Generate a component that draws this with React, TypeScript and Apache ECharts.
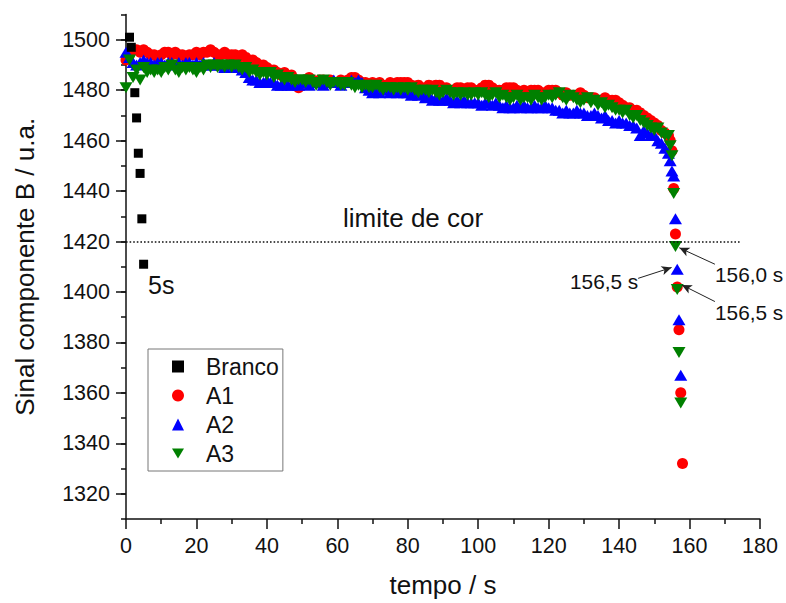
import React, { useEffect, useRef } from 'react';
import * as echarts from 'echarts';

// ---- axes ----
const xMin = 0;
const xMax = 180;
const yMin = 1310;
const yMax = 1510;
const yMajorTicks = [1320, 1340, 1360, 1380, 1400, 1420, 1440, 1460, 1480, 1500];

// ---- Branco (black squares) ----
const brancoT = [1.0, 1.5, 2.5, 3.0, 3.5, 4.0, 4.5, 5.0];
const brancoY = [1501, 1497, 1479, 1469, 1455, 1447, 1429, 1411];

// ---- body: one reading per second, t = 0 .. 153 s ----
const bodyStep = 1;
const a1Body = [
  1492, 1494, 1496, 1496, 1495, 1496, 1495, 1494, 1494, 1493,
  1494, 1495, 1495, 1494, 1495, 1494, 1494, 1493, 1494, 1494,
  1495, 1494, 1495, 1495, 1496, 1495, 1494, 1494, 1495, 1494,
  1494, 1494, 1493, 1494, 1493, 1492, 1492, 1491, 1490, 1490,
  1489, 1488, 1488, 1487, 1486, 1487, 1485, 1486, 1482, 1481,
  1483, 1484, 1485, 1484, 1483, 1484, 1484, 1483, 1484, 1483,
  1483, 1484, 1483, 1484, 1485, 1485, 1484, 1483, 1483, 1482,
  1483, 1482, 1483, 1482, 1482, 1483, 1482, 1483, 1483, 1483,
  1483, 1482, 1481, 1482, 1481, 1481, 1482, 1481, 1482, 1482,
  1481, 1481, 1480, 1480, 1481, 1481, 1480, 1481, 1481, 1480,
  1480, 1481, 1482, 1482, 1481, 1480, 1480, 1480, 1481, 1481,
  1481, 1480, 1479, 1480, 1479, 1480, 1480, 1480, 1479, 1479,
  1480, 1480, 1480, 1479, 1478, 1479, 1478, 1478, 1478, 1479,
  1478, 1477, 1477, 1477, 1476, 1476, 1477, 1476, 1476, 1476,
  1475, 1474, 1473, 1473, 1472, 1472, 1471, 1470, 1469, 1468,
  1467, 1466, 1464, 1463,
];
const a2Body = [
  1495, 1493, 1491, 1490, 1491, 1492, 1491, 1491, 1490, 1491,
  1491, 1490, 1491, 1491, 1490, 1491, 1490, 1491, 1491, 1490,
  1491, 1490, 1491, 1490, 1490, 1491, 1490, 1490, 1489, 1490,
  1490, 1489, 1490, 1488, 1487, 1485, 1484, 1484, 1483, 1483,
  1484, 1483, 1483, 1482, 1482, 1483, 1482, 1482, 1483, 1482,
  1483, 1483, 1482, 1484, 1483, 1483, 1482, 1483, 1483, 1484,
  1483, 1482, 1483, 1483, 1484, 1483, 1484, 1483, 1481, 1480,
  1479, 1480, 1479, 1480, 1481, 1479, 1480, 1479, 1480, 1479,
  1479, 1478, 1479, 1478, 1479, 1477, 1478, 1476, 1477, 1476,
  1476, 1477, 1476, 1475, 1476, 1475, 1476, 1475, 1475, 1475,
  1475, 1474, 1475, 1475, 1474, 1475, 1474, 1473, 1474, 1473,
  1473, 1474, 1473, 1474, 1473, 1473, 1474, 1473, 1473, 1474,
  1473, 1473, 1472, 1472, 1471, 1472, 1471, 1471, 1472, 1471,
  1471, 1470, 1470, 1471, 1470, 1469, 1470, 1468, 1468, 1467,
  1468, 1467, 1467, 1466, 1466, 1465, 1462, 1464, 1463, 1462,
  1462, 1460, 1459, 1457,
];
const a3Body = [
  1481, 1492, 1485, 1488, 1484, 1489, 1487, 1488, 1487, 1488,
  1487, 1489, 1488, 1490, 1488, 1487, 1489, 1488, 1489, 1488,
  1487, 1489, 1488, 1490, 1489, 1490, 1489, 1490, 1489, 1490,
  1489, 1490, 1489, 1488, 1489, 1487, 1488, 1487, 1486, 1487,
  1486, 1487, 1485, 1486, 1485, 1484, 1485, 1484, 1483, 1484,
  1484, 1483, 1484, 1483, 1482, 1483, 1484, 1483, 1482, 1483,
  1483, 1482, 1482, 1483, 1482, 1481, 1482, 1481, 1482, 1481,
  1481, 1482, 1481, 1480, 1481, 1481, 1480, 1481, 1480, 1481,
  1480, 1481, 1480, 1479, 1480, 1480, 1479, 1480, 1479, 1478,
  1479, 1480, 1479, 1478, 1479, 1478, 1479, 1478, 1478, 1479,
  1478, 1479, 1478, 1477, 1478, 1479, 1477, 1478, 1477, 1476,
  1477, 1478, 1476, 1477, 1477, 1476, 1478, 1477, 1476, 1477,
  1478, 1477, 1478, 1479, 1477, 1476, 1478, 1477, 1476, 1475,
  1476, 1477, 1475, 1476, 1474, 1475, 1473, 1474, 1473, 1472,
  1472, 1471, 1472, 1470, 1469, 1470, 1468, 1467, 1466, 1465,
  1464, 1465, 1463, 1462,
];

// ---- tail (fast drop), half-second readings ----
const a1TailT = [154, 154.5, 155, 155.5, 156, 156.5, 157, 157.5, 158];
const a1TailY = [1462, 1460, 1456, 1441, 1423, 1402, 1385, 1360, 1332];
const a2TailT = [154, 154.5, 155, 155.5, 156, 156.5, 157, 157.5];
const a2TailY = [1455, 1452, 1448, 1446, 1429, 1409, 1389, 1367];
const a3TailT = [154, 154.5, 155, 155.5, 156, 156.5, 157, 157.5];
const a3TailY = [1462, 1458, 1454, 1439, 1418, 1401, 1376, 1356];

// ---- annotations ----
const colorLimit = 1420;
const colorLimitEnd = 174.3;
const arrowLeft = { from: [145.4, 1405.4], to: [154.9, 1409.7] };
const arrow1560 = { from: [167.2, 1411.0], to: [157.1, 1417.5] };
const arrow1565 = { from: [167.2, 1396.2], to: [157.8, 1402.8] };

const FONT = 'Arial, "Liberation Sans", sans-serif';

function build(body: number[], tailT: number[], tailY: number[]) {
  const pts: number[][] = body.map((v, i) => [i * bodyStep, v]);
  tailT.forEach((t, i) => pts.push([t, tailY[i]]));
  return pts;
}

const downTri = 'path://M0,0 L12,0 L6,10 Z';

export default function App() {
  const ref = useRef<HTMLDivElement>(null);
  useEffect(() => {
    if (!ref.current) return;
    const chart = echarts.init(ref.current, null, { renderer: 'svg' });
    const arrowLine = (a: { from: number[]; to: number[] }) => [
      { coord: a.from, symbol: 'none' },
      { coord: a.to, symbol: 'arrow', symbolSize: [7, 10] },
    ];
    chart.setOption({
      animation: false,
      backgroundColor: '#fff',
      textStyle: { fontFamily: FONT },
      grid: { left: 126, right: 26, top: 14.5, bottom: 78, containLabel: false },
      xAxis: {
        type: 'value',
        min: xMin,
        max: xMax,
        interval: 20,
        name: 'tempo / s',
        nameLocation: 'middle',
        nameGap: 53,
        nameTextStyle: { fontSize: 26, color: '#111', fontFamily: FONT },
        axisLine: { lineStyle: { color: '#111', width: 1.5 } },
        axisTick: { length: 10, lineStyle: { color: '#111', width: 1.5 } },
        minorTick: { show: true, splitNumber: 2, length: 5, lineStyle: { color: '#111', width: 1.5 } },
        axisLabel: { fontSize: 21.5, color: '#111', margin: 16, fontFamily: FONT },
        splitLine: { show: false },
      },
      yAxis: [
        {
          type: 'value',
          min: yMin,
          max: yMax,
          interval: 10,
          name: 'Sinal componente B / u.a.',
          nameLocation: 'middle',
          nameGap: 88,
          nameTextStyle: { fontSize: 26, color: '#111', fontFamily: FONT },
          axisLine: { show: true, lineStyle: { color: '#111', width: 1.5 } },
          axisTick: { length: 5, lineStyle: { color: '#111', width: 1.5 } },
          axisLabel: {
            fontSize: 21.5,
            color: '#111',
            margin: 16,
            fontFamily: FONT,
            formatter: (v: number) => (yMajorTicks.indexOf(v) >= 0 ? String(v) : ''),
          },
          splitLine: { show: false },
        },
        {
          type: 'value',
          min: yMin,
          max: yMax,
          splitNumber: 10,
          position: 'left',
          axisLine: { show: false },
          axisTick: { show: true, length: 10, customValues: yMajorTicks, lineStyle: { color: '#111', width: 1.5 } },
          axisLabel: { show: false },
          splitLine: { show: false },
        },
      ],
      legend: {
        orient: 'vertical',
        left: 148,
        top: 349,
        data: ['Branco', 'A1', 'A2', 'A3'],
        itemWidth: 12,
        itemHeight: 12,
        itemGap: 6,
        padding: [6, 4, 6, 24],
        borderColor: '#777',
        borderWidth: 1,
        textStyle: { fontSize: 23, color: '#111', fontFamily: FONT, padding: [0, 0, 0, 17] },
      },
      series: [
        {
          name: 'A1',
          type: 'scatter',
          symbol: 'circle',
          symbolSize: 11,
          itemStyle: { color: '#ff0000', opacity: 1 },
          data: build(a1Body, a1TailT, a1TailY),
          markLine: {
            silent: true,
            animation: false,
            label: { show: false },
            symbol: ['none', 'none'],
            data: [
              [
                { coord: [xMin, colorLimit], symbol: 'none' },
                { coord: [colorLimitEnd, colorLimit], symbol: 'none' },
              ],
            ],
            lineStyle: { type: [1.6, 2], color: '#111', width: 1.6 },
          },
        },
        {
          name: 'A2',
          type: 'scatter',
          symbol: 'triangle',
          symbolSize: [13, 11],
          itemStyle: { color: '#0000ff', opacity: 1 },
          data: build(a2Body, a2TailT, a2TailY),
        },
        {
          name: 'A3',
          type: 'scatter',
          symbol: downTri,
          symbolSize: [13, 11],
          itemStyle: { color: '#008000', opacity: 1 },
          data: build(a3Body, a3TailT, a3TailY),
          markLine: {
            silent: true,
            animation: false,
            label: { show: false },
            lineStyle: { type: 'solid', color: '#222', width: 1 },
            data: [arrowLine(arrowLeft), arrowLine(arrow1560), arrowLine(arrow1565)],
          },
        },
        {
          name: 'Branco',
          type: 'scatter',
          symbol: 'rect',
          symbolSize: 9,
          itemStyle: { color: '#000000', opacity: 1 },
          data: brancoT.map((t, i) => [t, brancoY[i]]),
        },
      ],
      graphic: [
        { type: 'text', left: 343, top: 205, style: { text: 'limite de cor', font: `26px ${FONT}`, fill: '#111' } },
        { type: 'text', left: 148, top: 272, style: { text: '5s', font: `25px ${FONT}`, fill: '#111' } },
        { type: 'text', left: 570, top: 271, style: { text: '156,5 s', font: `20.8px ${FONT}`, fill: '#111' } },
        { type: 'text', left: 715, top: 264, style: { text: '156,0 s', font: `20.8px ${FONT}`, fill: '#111' } },
        { type: 'text', left: 715, top: 302, style: { text: '156,5 s', font: `20.8px ${FONT}`, fill: '#111' } },
      ],
    });
    return () => chart.dispose();
  }, []);
  return <div ref={ref} style={{ width: 786, height: 603, position: 'absolute', left: 0, top: 0 }} />;
}
